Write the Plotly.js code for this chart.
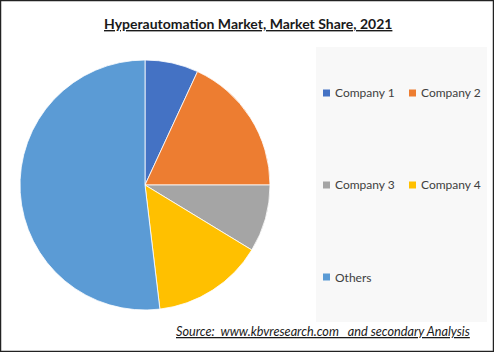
<!DOCTYPE html>
<html>
<head>
<meta charset="utf-8">
<script src="https://cdn.plot.ly/plotly-3.0.1.min.js"></script>
<style>html,body{margin:0;padding:0;background:#fff;}#chart{width:494px;height:352px;}</style>
</head>
<body>
<div id="chart"></div>
<script>
const categories = ["Company 1", "Company 2", "Company 3", "Company 4", "Others"];
const shares = [6.9, 18.1, 8.7, 14.4, 51.9];
const colors = ["#4472C4", "#ED7D31", "#A5A5A5", "#FFC000", "#5B9BD5"];
const titleText = "Hyperautomation Market, Market Share, 2021";
const sourceText = "Source:  www.kbvresearch.com   and secondary Analysis";

const W = 494, H = 352;
const px = v => v / W;
const py = v => 1 - v / H;
const FONT = "Lato, 'Noto Sans', sans-serif";

const trace = {
  type: "pie",
  labels: categories,
  values: shares,
  sort: false,
  direction: "clockwise",
  rotation: 0,
  textinfo: "none",
  hoverinfo: "label+percent",
  marker: { colors: colors, line: { color: "#ffffff", width: 0.8 } },
  domain: { x: [px(20), px(270)], y: [py(310), py(60)] },
  showlegend: false
};

const shapes = [
  { type: "rect", xref: "paper", yref: "paper", x0: px(316), x1: px(487), y0: py(322), y1: py(47),
    fillcolor: "#f8f8f8", line: { width: 0 }, layer: "below" },
  { type: "rect", xref: "paper", yref: "paper", x0: 0.001, x1: 0.999, y0: 0.0015, y1: 0.9985,
    fillcolor: "rgba(0,0,0,0)", line: { color: "#222", width: 1.5 } }
];
const annotations = [
  { text: "<b><u>" + titleText + "</u></b>", xref: "paper", yref: "paper", x: px(248), y: py(24),
    xanchor: "center", yanchor: "middle", showarrow: false, font: { family: FONT, size: 14, color: "#1a1a1a" } },
  { text: "<i><u>" + sourceText + "</u></i>", xref: "paper", yref: "paper", x: px(174), y: py(331),
    xanchor: "left", yanchor: "middle", showarrow: false, font: { family: FONT, size: 12.7, color: "#1a1a1a" } }
];
categories.forEach((c, i) => {
  const col = i % 2, row = Math.floor(i / 2);
  const sx = 323 + col * 86, sy = 93 + row * 92;
  shapes.push({ type: "rect", xref: "paper", yref: "paper", x0: px(sx), x1: px(sx + 7), y0: py(sy + 3.5), y1: py(sy - 3.5),
    fillcolor: colors[i], line: { width: 0 } });
  annotations.push({ text: c, xref: "paper", yref: "paper", x: px(sx + 10), y: py(sy), xanchor: "left", yanchor: "middle",
    showarrow: false, font: { family: FONT, size: 12, color: "#404040" } });
});

const layout = {
  width: W, height: H,
  margin: { l: 0, r: 0, t: 0, b: 0 },
  paper_bgcolor: "#ffffff",
  showlegend: false,
  shapes: shapes,
  annotations: annotations
};
Plotly.newPlot("chart", [trace], layout, { displayModeBar: false, staticPlot: true });
</script>
</body>
</html>
